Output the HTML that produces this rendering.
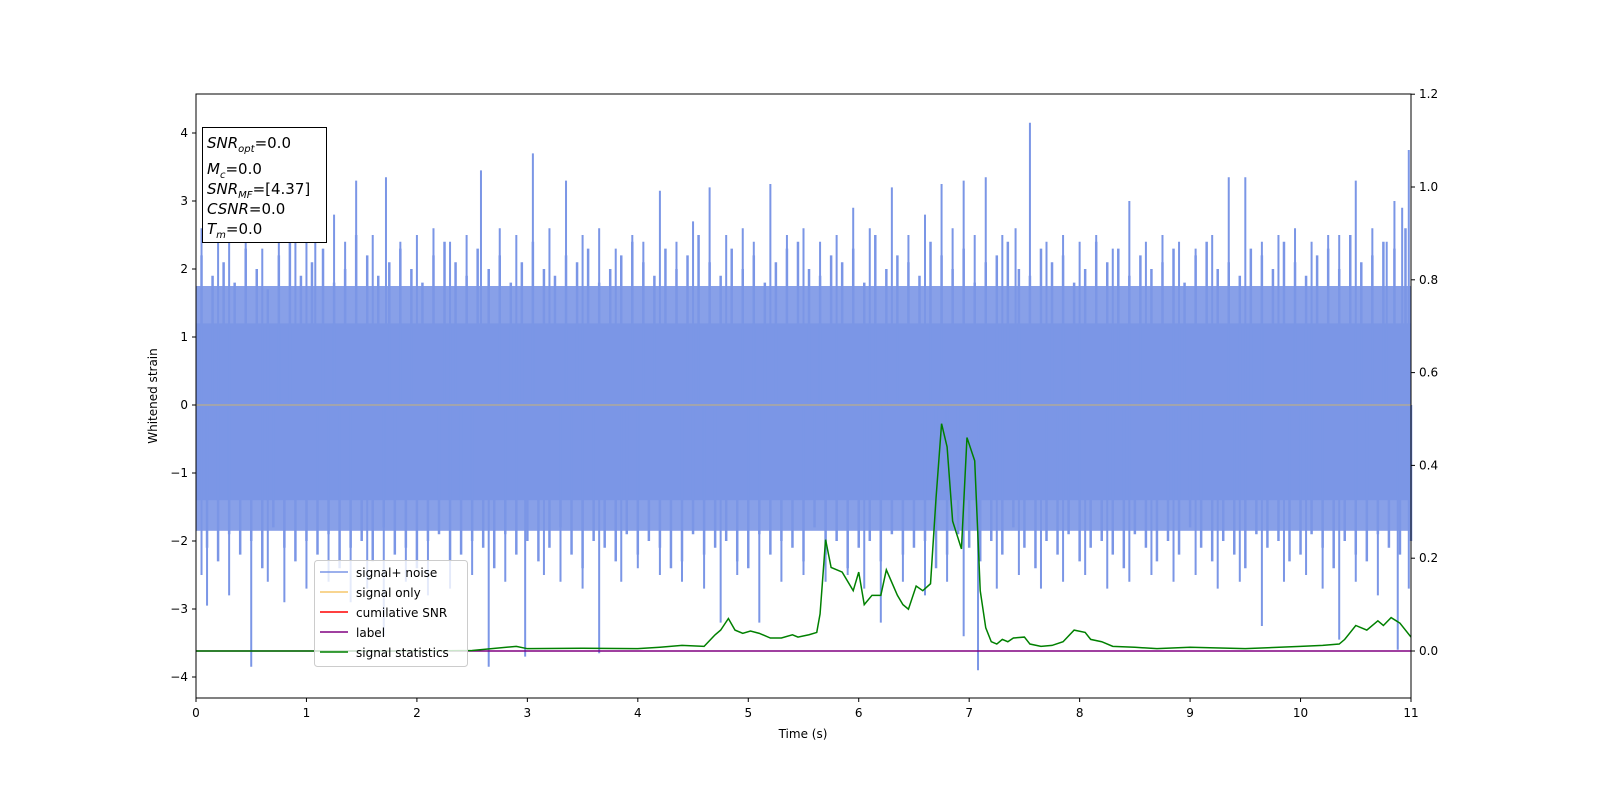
<!DOCTYPE html>
<html><head><meta charset="utf-8"><style>
body{margin:0;background:#fff;}
svg text{font-family:"DejaVu Sans","Liberation Sans",sans-serif;}
</style></head><body>
<svg width="1600" height="800" viewBox="0 0 1600 800" xmlns="http://www.w3.org/2000/svg">
<g id="plot"></g>
<g id="axes"></g>
</svg>
<script>
const xTicks=[0,1,2,3,4,5,6,7,8,9,10,11];
const yTicks=[-4,-3,-2,-1,0,1,2,3,4];
const rTicks=[0.0,0.2,0.4,0.6,0.8,1.0,1.2];
const upTimes=[0.05,0.2,0.3,0.45,0.6,0.75,0.9,1.0,1.08,1.25,1.35,1.45,1.6,1.72,1.85,2.0,2.15,2.3,2.45,2.58,2.75,2.9,3.05,3.2,3.35,3.5,3.65,3.8,3.95,4.05,4.2,4.35,4.5,4.65,4.8,4.95,5.05,5.2,5.35,5.5,5.65,5.8,5.95,6.1,6.3,6.45,6.6,6.75,6.85,6.95,7.05,7.15,7.3,7.42,7.55,7.7,7.85,8.0,8.15,8.3,8.45,8.6,8.75,8.9,9.05,9.2,9.35,9.5,9.65,9.8,9.95,10.1,10.25,10.35,10.5,10.65,10.78,10.85,10.92,10.98];
const upVals=[2.6,2.5,2.4,3.2,2.3,2.6,2.5,3.0,2.8,2.8,2.4,3.3,2.5,3.35,2.4,2.5,2.6,2.4,2.5,3.45,2.6,2.5,3.7,2.6,3.3,2.5,2.6,2.3,2.5,2.4,3.15,2.4,2.7,3.2,2.5,2.6,2.4,3.25,2.5,2.6,2.4,2.5,2.9,2.6,3.2,2.5,2.8,3.25,2.6,3.3,2.5,3.35,2.5,2.6,4.15,2.4,2.5,2.4,2.5,2.3,3.0,2.4,2.5,2.4,2.3,2.5,3.35,3.35,2.4,2.5,2.6,2.4,2.5,2.5,3.3,2.6,2.4,3.0,2.9,3.75];
const lowTimes=[0.05,0.1,0.3,0.5,0.65,0.8,1.0,1.2,1.4,1.55,1.7,1.9,2.1,2.3,2.5,2.65,2.8,2.98,3.15,3.3,3.5,3.65,3.85,4.0,4.2,4.4,4.6,4.75,4.9,5.1,5.3,5.5,5.7,5.9,6.05,6.2,6.4,6.6,6.8,6.95,7.08,7.25,7.45,7.65,7.85,8.05,8.25,8.45,8.65,8.85,9.05,9.25,9.45,9.65,9.85,10.05,10.2,10.35,10.5,10.7,10.88,10.98];
const lowVals=[-2.5,-2.95,-2.8,-3.85,-2.6,-2.9,-2.7,-2.6,-2.9,-2.7,-3.4,-2.6,-2.8,-2.7,-2.5,-3.85,-2.6,-3.7,-2.5,-2.6,-2.7,-3.65,-2.6,-2.4,-2.5,-2.6,-2.7,-3.2,-2.5,-3.2,-2.6,-2.5,-2.6,-2.5,-2.7,-3.2,-2.6,-2.8,-2.6,-3.4,-3.9,-2.7,-2.5,-2.7,-2.6,-2.5,-2.7,-2.6,-2.5,-2.6,-2.5,-2.7,-2.6,-3.25,-2.6,-2.5,-2.7,-3.45,-2.6,-2.8,-3.6,-2.7];
const midUp=[2.2,1.9,2.1,1.8,2.3,2.0,1.7,2.2,2.4,1.9,2.1,2.3,1.8,2.0,2.5,2.2,1.9,2.1,2.3,2.0,1.8,2.2,2.4,2.1,1.9,2.3,2.0,2.2,1.8,2.1,2.4,2.0,1.9,2.2,2.1,2.3,1.8,2.0,2.2,2.4,2.1,1.9,2.3,2.0,2.2,2.5,2.1,1.9,2.3,2.0,2.2,1.8,2.1,2.3,2.4,2.0,1.9,2.2,2.1,2.3,1.8,2.5,2.0,2.2,2.1,1.9,2.4,2.2,2.0,2.3,1.8,2.1,2.2,2.4,2.0,1.9,2.3,2.1,2.2,1.8,2.0,2.4,2.1,2.3,1.9,2.2,2.0,2.1,2.3,1.8,2.2,2.4,2.0,2.1,1.9,2.3,2.2,2.0,2.4,2.1,1.9,2.2,2.3,2.0,2.5,2.1,2.2,2.4,2.3,2.6];
const midLow=[-2.1,-2.3,-1.9,-2.2,-2.0,-2.4,-1.8,-2.1,-2.3,-2.0,-2.2,-1.9,-2.4,-2.1,-2.0,-2.3,-1.8,-2.2,-2.1,-2.4,-2.0,-1.9,-2.3,-2.2,-2.0,-2.1,-2.4,-1.9,-2.2,-2.0,-2.3,-2.1,-1.8,-2.2,-2.4,-2.0,-2.1,-2.3,-1.9,-2.2,-2.0,-2.1,-2.4,-2.3,-1.9,-2.2,-2.1,-2.0,-2.3,-2.4,-1.9,-2.2,-2.0,-2.1,-2.3,-1.8,-2.2,-2.0,-2.4,-2.1,-2.0,-2.3,-1.9,-2.2,-2.1,-2.0,-2.4,-2.2,-1.9,-2.1,-2.3,-2.0,-2.2,-1.8,-2.1,-2.4,-2.0,-2.2,-1.9,-2.3,-2.1,-2.0,-2.2,-2.4,-1.9,-2.1,-2.3,-2.0,-2.2,-1.8,-2.1,-2.3,-2.0,-2.2,-2.4,-1.9,-2.1,-2.0,-2.3,-2.2,-1.9,-2.1,-2.4,-2.0,-2.2,-2.3,-1.9,-2.1,-2.2,-2.0];
const statTimes=[0,1,2,2.5,2.9,3.0,3.5,4.0,4.2,4.4,4.6,4.7,4.75,4.82,4.88,4.95,5.02,5.1,5.2,5.3,5.4,5.45,5.55,5.62,5.65,5.7,5.75,5.85,5.95,6.0,6.05,6.12,6.2,6.25,6.35,6.4,6.45,6.52,6.58,6.65,6.7,6.75,6.8,6.85,6.93,6.98,7.05,7.1,7.15,7.2,7.25,7.3,7.35,7.4,7.5,7.55,7.65,7.75,7.85,7.95,8.05,8.1,8.2,8.3,8.5,8.7,9.0,9.5,10.0,10.2,10.35,10.4,10.5,10.6,10.7,10.75,10.82,10.9,11.0];
const statVals=[0,0,0,0.001,0.01,0.005,0.006,0.005,0.008,0.012,0.01,0.035,0.045,0.07,0.045,0.038,0.043,0.038,0.028,0.028,0.035,0.03,0.035,0.04,0.08,0.24,0.18,0.17,0.13,0.17,0.1,0.12,0.12,0.175,0.12,0.1,0.09,0.14,0.13,0.145,0.33,0.49,0.44,0.28,0.22,0.46,0.41,0.13,0.05,0.02,0.015,0.025,0.02,0.028,0.03,0.015,0.01,0.012,0.02,0.045,0.04,0.025,0.02,0.01,0.008,0.005,0.008,0.005,0.01,0.012,0.015,0.025,0.055,0.045,0.065,0.055,0.072,0.06,0.03];
const L=196,R=1411,T=94,B=698;
const X=t=>L+t/11*(R-L);
const Y=v=>405-v*68;
const YR=v=>651-v*464;
const NS="http://www.w3.org/2000/svg";
const plot=document.getElementById('plot'),axes=document.getElementById('axes');
function mk(tag,at,parent){const e=document.createElementNS(NS,tag);for(const k in at)e.setAttribute(k,at[k]);parent.appendChild(e);return e;}
const C='#7b96e6';
let band2=mk('rect',{x:X(0),y:Y(1.75),width:X(11)-X(0),height:Y(-1.85)-Y(1.75),fill:C,opacity:0.9},plot);

let band=mk('rect',{x:X(0),y:Y(1.2),width:X(11)-X(0),height:Y(-1.4)-Y(1.2),fill:C},plot);

midUp.forEach((v,i)=>{const t=i*0.1+0.05;
 const a=mk('line',{x1:X(t),x2:X(t),y1:Y(0),y2:Y(v),stroke:C,'stroke-width':2.5},plot);
 
 const b=mk('line',{x1:X(t+0.05),x2:X(t+0.05),y1:Y(0),y2:Y(midLow[i]),stroke:C,'stroke-width':2.5},plot);
 });
upTimes.forEach((t,i)=>{const l=mk('line',{x1:X(t),x2:X(t),y1:Y(0),y2:Y(upVals[i]),stroke:C,'stroke-width':2},plot);
});
lowTimes.forEach((t,i)=>{const l=mk('line',{x1:X(t),x2:X(t),y1:Y(0),y2:Y(lowVals[i]),stroke:C,'stroke-width':2},plot);
});
let so=mk('line',{x1:X(0),x2:X(11),y1:Y(0),y2:Y(0),stroke:'#b0a89a','stroke-width':1.5},plot);

let lab=mk('line',{x1:X(0),x2:X(11),y1:YR(0),y2:YR(0),stroke:'purple','stroke-width':1.5},plot);

let st=mk('polyline',{points:statTimes.map((t,i)=>X(t)+','+YR(statVals[i])).join(' '),fill:'none',stroke:'green','stroke-width':1.5},plot);

let fr=mk('rect',{x:L,y:T,width:R-L,height:B-T,fill:'none',stroke:'#000','stroke-width':1},axes);

xTicks.forEach(t=>{mk('line',{x1:X(t),x2:X(t),y1:B,y2:B+4,stroke:'#000'},axes);
const tx=mk('text',{x:X(t),y:B+19,'text-anchor':'middle','font-size':12},axes);tx.textContent=t;
});
yTicks.forEach(v=>{mk('line',{x1:L-4,x2:L,y1:Y(v),y2:Y(v),stroke:'#000'},axes);
const tx=mk('text',{x:L-8,y:Y(v)+4,'text-anchor':'end','font-size':12},axes);tx.textContent=(v<0?'\u2212'+(-v):v);
});
rTicks.forEach(v=>{mk('line',{x1:R,x2:R+4,y1:YR(v),y2:YR(v),stroke:'#000'},axes);
const tx=mk('text',{x:R+8,y:YR(v)+4,'font-size':12},axes);tx.textContent=v.toFixed(1);
});
</script>
<svg style="position:absolute;left:0;top:0" width="1600" height="800">
<text x="803" y="738" text-anchor="middle" font-size="12">Time (s)</text>
<text x="157" y="396" text-anchor="middle" font-size="12" transform="rotate(-90 157 396)">Whitened strain</text>
<g>
<rect x="202.5" y="127.5" width="124" height="115" fill="#fff" stroke="#000"/>
<text x="207" y="148" font-size="15"><tspan font-style="italic">SNR</tspan><tspan font-size="10" dy="4" font-style="italic">opt</tspan><tspan dy="-4">=0.0</tspan></text>
<text x="207" y="174" font-size="15"><tspan font-style="italic">M</tspan><tspan font-size="10" dy="4" font-style="italic">c</tspan><tspan dy="-4">=0.0</tspan></text>
<text x="207" y="194" font-size="15"><tspan font-style="italic">SNR</tspan><tspan font-size="10" dy="4" font-style="italic">MF</tspan><tspan dy="-4">=[4.37]</tspan></text>
<text x="207" y="214" font-size="15"><tspan font-style="italic">CSNR</tspan>=0.0</text>
<text x="207" y="234" font-size="15"><tspan font-style="italic">T</tspan><tspan font-size="10" dy="4" font-style="italic">m</tspan><tspan dy="-4">=0.0</tspan></text>
</g>
<g>
<rect x="314.5" y="560.5" width="153" height="106" rx="3" fill="#fff" fill-opacity="0.8" stroke="#ccc"/>
<line x1="320" x2="348" y1="572" y2="572" stroke="#7b96e6" stroke-width="1.5"/><text x="356" y="577" font-size="12">signal+ noise</text>
<line x1="320" x2="348" y1="592" y2="592" stroke="#f5c76b" stroke-width="1.5"/><text x="356" y="597" font-size="12">signal only</text>
<line x1="320" x2="348" y1="612" y2="612" stroke="red" stroke-width="1.5"/><text x="356" y="617" font-size="12">cumilative SNR</text>
<line x1="320" x2="348" y1="632" y2="632" stroke="purple" stroke-width="1.5"/><text x="356" y="637" font-size="12">label</text>
<line x1="320" x2="348" y1="652" y2="652" stroke="green" stroke-width="1.5"/><text x="356" y="657" font-size="12">signal statistics</text>
</g>
</svg>
</body></html>
